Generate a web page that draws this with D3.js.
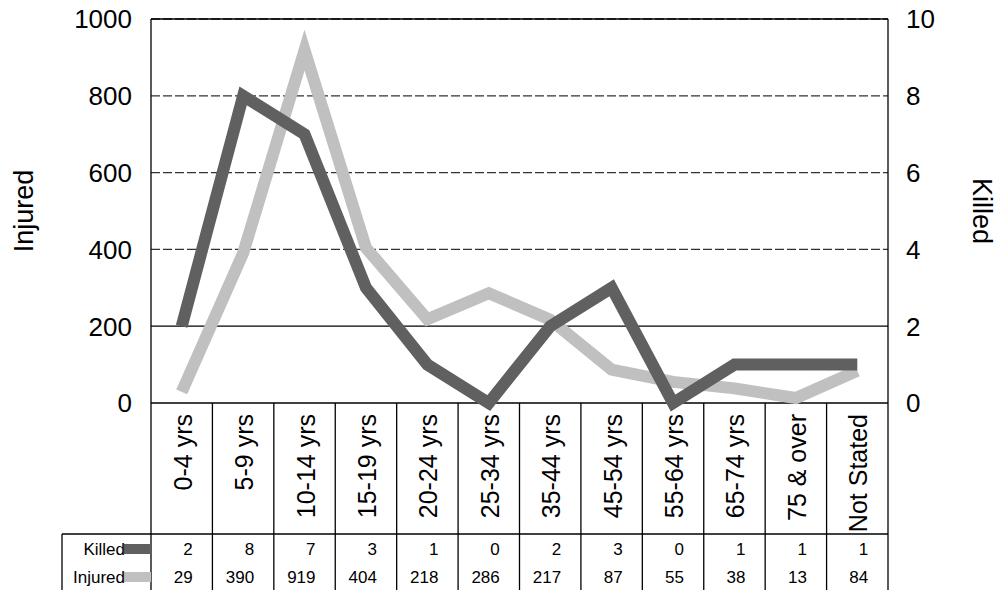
<!DOCTYPE html>
<html>
<head>
<meta charset="utf-8">
<script src="https://cdn.jsdelivr.net/npm/d3@7"></script>
<style>
  body { margin: 0; background: #fff; }
  text { font-family: "Liberation Sans", Arial, sans-serif; fill: #000; }
</style>
</head>
<body>
<svg id="chart"></svg>
<script>
const categories = ["0-4 yrs", "5-9 yrs", "10-14 yrs", "15-19 yrs", "20-24 yrs", "25-34 yrs",
  "35-44 yrs", "45-54 yrs", "55-64 yrs", "65-74 yrs", "75 & over", "Not Stated"];
const killed = [2, 8, 7, 3, 1, 0, 2, 3, 0, 1, 1, 1];
const injured = [29, 390, 919, 404, 218, 286, 217, 87, 55, 38, 13, 84];
const leftTicks = [0, 200, 400, 600, 800, 1000];
const rightTicks = [0, 2, 4, 6, 8, 10];

const width = 998, height = 590;
const margin = { top: 19, left: 151, right: 110 };
const plotBottom = 403;
const tableTop = 534;
const innerWidth = width - margin.left - margin.right;

const svg = d3.select("#chart").attr("width", width).attr("height", height);

const x = d3.scaleBand().domain(categories).range([margin.left, margin.left + innerWidth]);
const yLeft = d3.scaleLinear().domain([0, 1000]).range([plotBottom, margin.top]);
const yRight = d3.scaleLinear().domain([0, 10]).range([plotBottom, margin.top]);

// grid lines
svg.append("g").selectAll("line")
  .data(leftTicks.filter(d => d > 0))
  .enter().append("line")
  .attr("x1", margin.left).attr("x2", margin.left + innerWidth)
  .attr("y1", d => yLeft(d)).attr("y2", d => yLeft(d))
  .attr("stroke", d => d === 200 ? "#000" : "#333")
  .attr("stroke-width", 1.3)
  .attr("stroke-dasharray", d => d === 200 ? null : "9,3");

// tick labels
svg.append("g").selectAll("text")
  .data(leftTicks).enter().append("text")
  .attr("x", 132).attr("y", d => yLeft(d)).attr("dy", "0.36em")
  .attr("text-anchor", "end").style("font-size", "26px")
  .text(d => d);

svg.append("g").selectAll("text")
  .data(rightTicks).enter().append("text")
  .attr("x", 906).attr("y", d => yRight(d)).attr("dy", "0.36em")
  .attr("text-anchor", "start").style("font-size", "26px")
  .text(d => d);

// axis titles
svg.append("text")
  .attr("transform", `translate(33,${(margin.top + plotBottom) / 2}) rotate(-90)`)
  .attr("text-anchor", "middle").style("font-size", "27px")
  .text("Injured");
svg.append("text")
  .attr("transform", `translate(973,${(margin.top + plotBottom) / 2}) rotate(90)`)
  .attr("text-anchor", "middle").style("font-size", "27px")
  .text("Killed");

// frame and table lines
const right = margin.left + innerWidth;
svg.append("line").attr("x1", margin.left).attr("x2", right)
  .attr("y1", plotBottom).attr("y2", plotBottom).attr("stroke", "#000").attr("stroke-width", 1.3);
svg.append("line").attr("x1", margin.left).attr("x2", right)
  .attr("y1", margin.top).attr("y2", margin.top).attr("stroke", "#000").attr("stroke-width", 1.3);
svg.append("line").attr("x1", 62).attr("x2", right)
  .attr("y1", tableTop).attr("y2", tableTop).attr("stroke", "#000").attr("stroke-width", 1.3);
svg.append("line").attr("x1", 62).attr("x2", 62)
  .attr("y1", tableTop).attr("y2", height).attr("stroke", "#000").attr("stroke-width", 1.3);
svg.append("line").attr("x1", margin.left).attr("x2", margin.left)
  .attr("y1", margin.top).attr("y2", height).attr("stroke", "#000").attr("stroke-width", 1.3);
svg.append("line").attr("x1", right).attr("x2", right)
  .attr("y1", margin.top).attr("y2", height).attr("stroke", "#000").attr("stroke-width", 1.3);

svg.append("g").selectAll("line")
  .data(categories.slice(1)).enter().append("line")
  .attr("x1", d => x(d)).attr("x2", d => x(d))
  .attr("y1", plotBottom).attr("y2", height)
  .attr("stroke", "#000").attr("stroke-width", 1.3);

// category labels
svg.append("g").selectAll("text")
  .data(categories).enter().append("text")
  .attr("transform", d => `translate(${x(d) + x.bandwidth() / 2 + 10},414) rotate(-90)`)
  .attr("text-anchor", "end").style("font-size", "25px")
  .text(d => d);

// lines
const cx = (d, i) => x(categories[i]) + x.bandwidth() / 2;
const lineInjured = d3.line().x(cx).y(d => yLeft(d));
const lineKilled = d3.line().x(cx).y(d => yRight(d));

svg.append("path").datum(injured)
  .attr("d", lineInjured).attr("fill", "none")
  .attr("stroke", "#c0c0c0").attr("stroke-width", 12)
  .attr("stroke-linejoin", "miter");
svg.append("path").datum(killed)
  .attr("d", lineKilled).attr("fill", "none")
  .attr("stroke", "#606060").attr("stroke-width", 12)
  .attr("stroke-linejoin", "miter");

// data table
const rows = [
  { name: "Killed", values: killed, color: "#606060", y: 549 },
  { name: "Injured", values: injured, color: "#c0c0c0", y: 577 }
];

rows.forEach(r => {
  svg.append("rect").attr("x", 124).attr("y", r.y - 5)
    .attr("width", 27).attr("height", 10).attr("fill", r.color);
  svg.append("text").attr("x", 125).attr("y", r.y).attr("dy", "0.36em")
    .attr("text-anchor", "end").style("font-size", "17px").text(r.name);
  svg.append("g").selectAll("text")
    .data(r.values).enter().append("text")
    .attr("x", (d, i) => x(categories[i]) + x.bandwidth() / 2 + 11)
    .attr("y", r.y).attr("dy", "0.36em")
    .attr("text-anchor", "end").style("font-size", "17px")
    .text(d => d);
});
</script>
</body>
</html>
